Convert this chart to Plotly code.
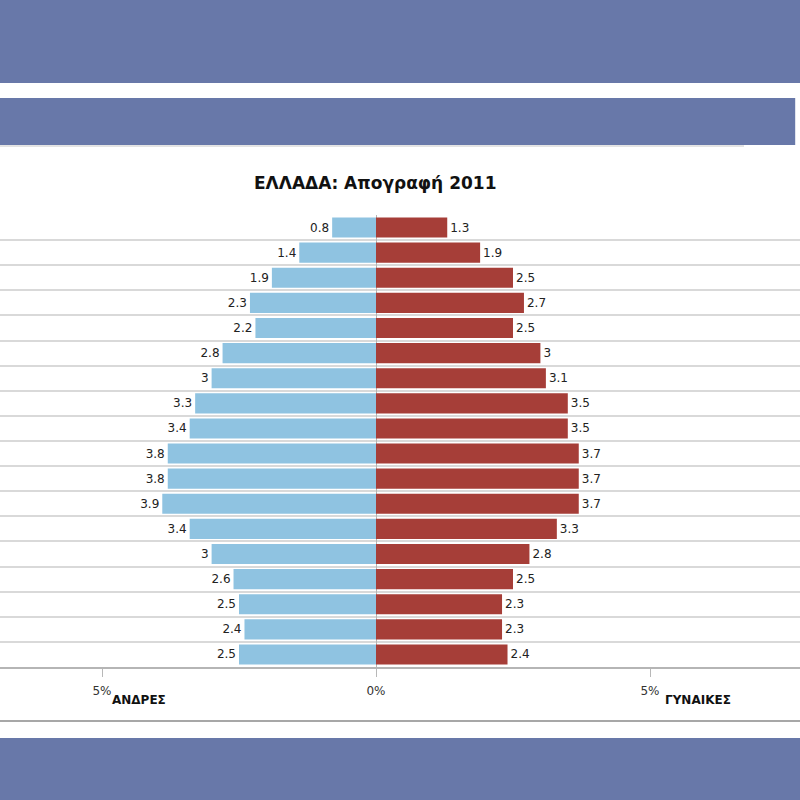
import plotly.graph_objects as go

# age groups bottom -> top
age_groups = ["0-4", "5-9", "10-14", "15-19", "20-24", "25-29", "30-34", "35-39",
              "40-44", "45-49", "50-54", "55-59", "60-64", "65-69", "70-74",
              "75-79", "80-84", "85+"]
men = [2.5, 2.4, 2.5, 2.6, 3.0, 3.4, 3.9, 3.8, 3.8, 3.4, 3.3, 3.0, 2.8, 2.2, 2.3, 1.9, 1.4, 0.8]
women = [2.4, 2.3, 2.3, 2.5, 2.8, 3.3, 3.7, 3.7, 3.7, 3.5, 3.5, 3.1, 3.0, 2.5, 2.7, 2.5, 1.9, 1.3]

tick_vals = [-5, 0, 5]
tick_text = ["5%", "0%", "5%"]

W, H = 800, 800
TOP, BOTTOM = 215, 667  # plot area in pixels


def py(y):
    # pixel row -> paper y
    return (BOTTOM - y) / (BOTTOM - TOP)


band = "#6878a9"
font = "DejaVu Sans, Verdana, sans-serif"

fig = go.Figure()
fig.add_trace(go.Bar(
    y=age_groups, x=[-v for v in men], orientation="h",
    marker=dict(color="#8fc3e1", line=dict(width=0)),
    text=[f"{v:g}" for v in men], textposition="outside",
    textfont=dict(size=12, color="#222", family=font),
    constraintext="none", cliponaxis=False, name="ΑΝΔΡΕΣ",
))
fig.add_trace(go.Bar(
    y=age_groups, x=women, orientation="h",
    marker=dict(color="#a63e38", line=dict(width=0)),
    text=[f"{v:g}" for v in women], textposition="outside",
    textfont=dict(size=12, color="#222", family=font),
    constraintext="none", cliponaxis=False, name="ΓΥΝΑΙΚΕΣ",
))

shapes = [
    dict(type="rect", xref="paper", yref="paper", x0=0, x1=1, y0=py(0), y1=py(83),
         fillcolor=band, line_width=0),
    dict(type="rect", xref="paper", yref="paper", x0=0, x1=0.994, y0=py(98), y1=py(145),
         fillcolor=band, line_width=0),
    dict(type="line", xref="paper", yref="paper", x0=0, x1=0.93, y0=py(146), y1=py(146),
         line=dict(color="#c8c8c8", width=1)),
    dict(type="line", xref="paper", yref="paper", x0=0, x1=1, y0=py(721), y1=py(721),
         line=dict(color="#8a8a8a", width=1.5)),
    dict(type="rect", xref="paper", yref="paper", x0=0, x1=1, y0=py(738), y1=py(800),
         fillcolor=band, line_width=0),
]

annotations = [
    dict(text="<b>ΕΛΛΑΔΑ: Απογραφή 2011</b>", xref="paper", yref="paper",
         x=375 / W, y=py(183), showarrow=False, xanchor="center", yanchor="middle",
         font=dict(size=17, color="#111", family=font)),
    dict(text="<b>ΑΝΔΡΕΣ</b>", xref="paper", yref="paper",
         x=110 / W, y=py(700), showarrow=False, xanchor="left", yanchor="middle",
         font=dict(size=12, color="#111", family=font)),
    dict(text="<b>ΓΥΝΑΙΚΕΣ</b>", xref="paper", yref="paper",
         x=663 / W, y=py(700), showarrow=False, xanchor="left", yanchor="middle",
         font=dict(size=12, color="#111", family=font)),
]

fig.update_layout(
    width=W, height=H,
    margin=dict(l=0, r=0, t=TOP, b=H - BOTTOM, pad=0),
    barmode="relative", bargap=0.2,
    showlegend=False,
    paper_bgcolor="white", plot_bgcolor="white",
    shapes=shapes, annotations=annotations,
    xaxis=dict(
        range=[-376 / 54.8, (W - 376) / 54.8],
        tickvals=tick_vals, ticktext=tick_text,
        ticks="outside", ticklen=8, tickcolor="#b8b8b8", tickwidth=1,
        ticklabelstandoff=4,
        tickfont=dict(size=12, color="#333", family=font),
        showgrid=False, zeroline=True, zerolinecolor="#b5b5b5", zerolinewidth=1,
        showline=True, linecolor="#b5b5b5", linewidth=2,
        fixedrange=True,
    ),
    yaxis=dict(
        type="category", categoryorder="array", categoryarray=age_groups,
        tickson="boundaries", showgrid=True, gridcolor="#d9d9d9", gridwidth=2,
        showticklabels=False, ticks="", zeroline=False,
        fixedrange=True,
    ),
)

# remove the page's default body margin so the figure sits at 0,0
fig.write_html("out.html", config={"displayModeBar": False},
               post_script="document.body.style.margin='0';document.body.style.overflow='hidden';")
